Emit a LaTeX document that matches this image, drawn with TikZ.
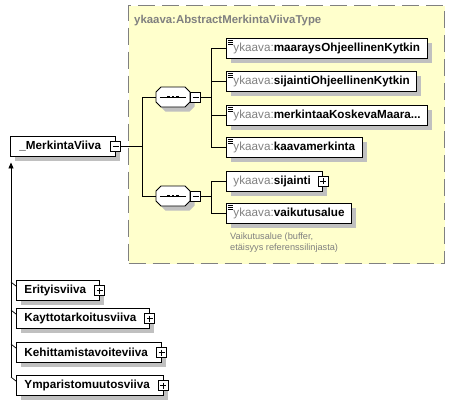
\documentclass[tikz,border=0pt]{standalone}
\usepackage{fontspec}
\setmainfont{Liberation Sans}
\usetikzlibrary{arrows.meta,calc,positioning,shadows}
\definecolor{typeyellow}{RGB}{255,255,204}
\definecolor{framegray}{RGB}{128,128,128}
\definecolor{nsgray}{RGB}{128,128,128}
\definecolor{shadowgray}{RGB}{192,192,192}
\newcommand{\ykaava}{\textcolor{nsgray}{ykaava:}}

\tikzset{
  boxshadow/.style={general shadow={fill=shadowgray, shadow xshift=4.5pt, shadow yshift=-4.5pt}},
  typeframe/.style={draw=framegray, dash pattern=on 17pt off 7pt, fill=typeyellow, line width=1.2pt,
    minimum width=316pt, minimum height=258pt, anchor=north west, inner sep=0pt},
  elem/.style={draw, fill=white, line width=0.9pt, minimum height=20pt, inner xsep=7pt, inner ysep=0pt,
    anchor=west, boxshadow},
  docelem/.style={elem, path picture={
    \foreach \dy in {2,4,6}
      \draw[line width=0.7pt] ([shift={(1.5pt,-\dy pt)}]path picture bounding box.north west) -- ++(5pt,0pt);}},
  expandable/.style={execute at end node={\hspace{5pt}}},
  minusbox/.style={draw, fill=white, line width=0.8pt, minimum size=10pt, inner sep=0pt, path picture={
    \draw[line width=0.8pt] ([xshift=2pt]path picture bounding box.west) -- ([xshift=-2pt]path picture bounding box.east);}},
  plusbox/.style={draw, fill=white, line width=0.8pt, minimum size=10pt, inner sep=0pt, path picture={
    \draw[line width=0.8pt] ([xshift=2pt]path picture bounding box.west) -- ([xshift=-2pt]path picture bounding box.east);
    \draw[line width=0.8pt] ([yshift=-2pt]path picture bounding box.north) -- ([yshift=2pt]path picture bounding box.south);}},
  seqbox/.style={minimum width=34pt, minimum height=20pt, inner sep=0pt},
  conn/.style={line width=0.9pt},
}

\begin{document}
\begin{tikzpicture}[x=1pt, y=-1pt, every node/.style={font=\fontsize{11.7}{13}\selectfont}]
  \fill[white] (0,0) rectangle (455,405);
  \useasboundingbox (0,0) rectangle (455,405);

  % type frame
  \node[typeframe] (typeFrame) at (128,5) {};
  \node[anchor=base west, inner sep=0pt, text=nsgray, font=\fontsize{11.4}{13}\selectfont\bfseries] (typeTitle) at (134,23) {ykaava:AbstractMerkintaViivaType};

  % base element
  \node[elem, inner xsep=9pt, expandable] (merkintaViiva) at (10,146) {\textbf{\_MerkintaViiva}};
  \node[minusbox] (merkintaViivaExp) at (merkintaViiva.east) {};

  % sequences
  \node[seqbox] (seqA) at (173,97) {};
  \node[seqbox] (seqB) at (173,196) {};
  \foreach \s in {seqA,seqB} {
    \fill[shadowgray] ($(\s.center)+(4.5,4.5)$) +(-12,-10) -- +(12,-10) -- +(17,-5) -- +(17,5) -- +(12,10)
      -- +(-12,10) -- +(-17,5) -- +(-17,-5) -- cycle;
    \filldraw[fill=white, line width=0.9pt] (\s.center) +(-12,-10) -- +(12,-10) -- +(17,-5) -- +(17,5) -- +(12,10)
      -- +(-12,10) -- +(-17,5) -- +(-17,-5) -- cycle;
    \draw[line width=1pt] ($(\s.west)+(4,0)$) -- ($(\s.east)+(-4,0)$);
    \foreach \dx in {-4.3,0,4.3}
      \fill[black] ($(\s.center)+(\dx,0)$) +(-1.4,-1.4) rectangle +(1.4,1.4);
  }
  \node[minusbox, anchor=west] (seqAExp) at (seqA.east) {};
  \node[minusbox, anchor=west] (seqBExp) at (seqB.east) {};

  % child elements
  \node[docelem] (maarays) at (226,48) {\ykaava\textbf{maaraysOhjeellinenKytkin}};
  \node[docelem] (sijaintiOhj) at (226,81) {\ykaava\textbf{sijaintiOhjeellinenKytkin}};
  \node[docelem] (merkintaa) at (226,115) {\ykaava\textbf{merkintaaKoskevaMaara...}};
  \node[docelem] (kaava) at (226,147) {\ykaava\textbf{kaavamerkinta}};
  \node[elem, expandable] (sijainti) at (226,181) {\ykaava\textbf{sijainti}};
  \node[plusbox] (sijaintiExp) at (sijainti.east) {};
  \node[docelem] (vaikutus) at (226,213) {\ykaava\textbf{vaikutusalue}};
  \node[anchor=north west, align=left, inner sep=0pt, text=nsgray, font=\fontsize{9.2}{11}\selectfont] (vaikutusNote) at (230,232.5) {Vaikutusalue (buffer,\\etäisyys referenssilinjasta)};

  % connectors
  \coordinate (bus) at (142,0);
  \coordinate (busA) at (211,0);
  \draw[conn] (merkintaViivaExp.east) -- (merkintaViivaExp.east -| bus);
  \draw[conn] (seqA.west) -- (seqA.west -| bus) -- (seqB.west -| bus) -- (seqB.west);
  \draw[conn] (seqAExp.east) -- (seqAExp.east -| busA);
  \draw[conn] (maarays.west -| busA) -- (kaava.west -| busA);
  \foreach \n in {maarays,sijaintiOhj,merkintaa,kaava}
    \draw[conn] (\n.west -| busA) -- (\n.west);
  \draw[conn] (seqBExp.east) -- (seqBExp.east -| busA);
  \draw[conn] (sijainti.west -| busA) -- (vaikutus.west -| busA);
  \foreach \n in {sijainti,vaikutus}
    \draw[conn] (\n.west -| busA) -- (\n.west);

  % derived types
  \node[elem, inner xsep=8pt, expandable] (erity) at (16,290.5) {\textbf{Erityisviiva}};
  \node[plusbox] (erityExp) at (erity.east) {};
  \node[elem, inner xsep=8pt, expandable] (kaytto) at (16,318.5) {\textbf{Kayttotarkoitusviiva}};
  \node[plusbox] (kayttoExp) at (kaytto.east) {};
  \node[elem, inner xsep=8pt, expandable] (kehit) at (16,352.5) {\textbf{Kehittamistavoiteviiva}};
  \node[plusbox] (kehitExp) at (kehit.east) {};
  \node[elem, inner xsep=8pt, expandable] (ympar) at (16,385.5) {\textbf{Ymparistomuutosviiva}};
  \node[plusbox] (ymparExp) at (ympar.east) {};

  \coordinate (inh) at (11,0);
  \coordinate (inhTop) at ($(merkintaViiva.south west -| inh)+(0,6)$);
  \draw[conn, -{Triangle[length=6pt, width=5pt]}] ($(ympar.north west -| inh)+(0,2)$) -- (inhTop);
  \foreach \n in {erity,kaytto,kehit,ympar}
    \draw[line width=0.7pt] ($(\n.north west -| inh)+(0,2)$) -- ($(\n.north west)+(0,6)$);
\end{tikzpicture}
\end{document}
